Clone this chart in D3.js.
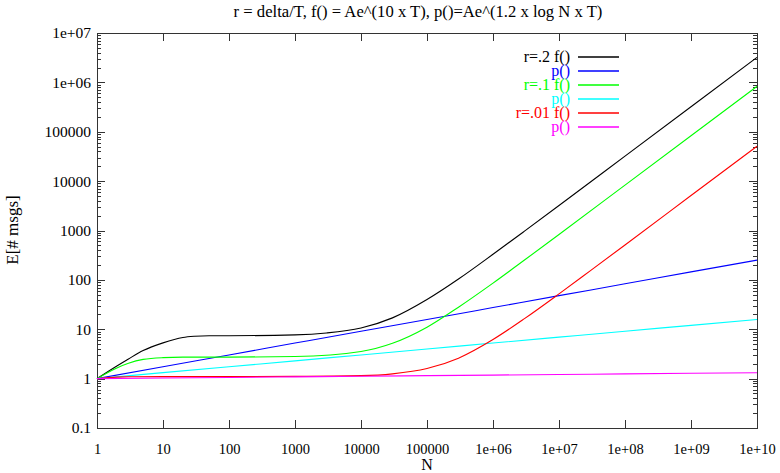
<!DOCTYPE html>
<html>
<head>
<meta charset="utf-8">
<script src="https://cdn.jsdelivr.net/npm/d3@7"></script>
<style>
  body { margin: 0; background: #fff; }
  text { font-family: "Liberation Serif", "DejaVu Serif", serif; }
</style>
</head>
<body>
<div id="chart"></div>
<script>
// values (N on x, E[# msgs] on y)
const N_BLACK = [1, 2, 3, 5, 10, 20, 30, 50, 100, 1e3, 3e3, 1e4, 3e4, 1e5, 3e5, 1e6, 3e6, 1e7, 1e8, 1e9, 1e10];
const E_BLACK = [1, 1.8, 2.5, 3.7, 5.3, 6.8, 7.2, 7.4, 7.4, 7.7, 8.4, 10.6, 17, 40, 104, 330, 970, 3200, 32000, 320000, 3200000];

const N_GREEN = [1, 2, 3, 5, 10, 20, 100, 1e3, 1e4, 3e4, 1e5, 3e5, 1e6, 3e6, 1e7, 1e8, 1e9, 1e10];
const E_GREEN = [1, 1.65, 2.05, 2.45, 2.66, 2.72, 2.72, 2.8, 3.55, 5.2, 11, 28, 86, 252, 830, 8300, 83000, 830000];

const N_RED = [1, 2, 3, 10, 100, 1e3, 1e4, 3e4, 1e5, 3e5, 1e6, 3e6, 1e7, 3e7, 1e8, 1e9, 1e10];
const E_RED = [1, 1.07, 1.09, 1.1, 1.1, 1.11, 1.15, 1.25, 1.6, 2.6, 6.2, 16.4, 52, 154, 510, 5100, 51000];

// the p() curves are straight lines, read at every decade
const N_DECADES = [1, 10, 100, 1e3, 1e4, 1e5, 1e6, 1e7, 1e8, 1e9, 1e10];
const E_BLUE = [1, 1.74, 3.02, 5.25, 9.12, 15.8, 27.5, 47.9, 83.2, 145, 251];
const E_CYAN = [1, 1.32, 1.74, 2.29, 3.02, 3.98, 5.25, 6.92, 9.12, 12.0, 15.8];
const E_MAGENTA = [1, 1.028, 1.056, 1.086, 1.117, 1.148, 1.18, 1.213, 1.247, 1.282, 1.318];

// tick labels
const X_TICKS = [1, 10, 100, 1e3, 1e4, 1e5, 1e6, 1e7, 1e8, 1e9, 1e10];
const X_TICK_LABELS = ["1", "10", "100", "1000", "10000", "100000", "1e+06", "1e+07", "1e+08", "1e+09", "1e+10"];
const Y_TICKS = [0.1, 1, 10, 100, 1e3, 1e4, 1e5, 1e6, 1e7];
const Y_TICK_LABELS = ["0.1", "1", "10", "100", "1000", "10000", "100000", "1e+06", "1e+07"];

const LEGEND_LABELS = ["r=.2 f()", "p()", "r=.1 f()", "p()", "r=.01 f()", "p()"];
const COLORS = ["#000000", "#0000ff", "#00ff00", "#00ffff", "#ff0000", "#ff00ff"];

// frame of the plot
const WIDTH = 780;
const HEIGHT = 473;
const MARGINS = {left: 97, right: 23, top: 33, bottom: 45};
const VIS_WIDTH = WIDTH - MARGINS.left - MARGINS.right;
const VIS_HEIGHT = HEIGHT - MARGINS.top - MARGINS.bottom;

const SVG = d3.select("#chart")
              .append("svg")
                .attr("width", WIDTH)
                .attr("height", HEIGHT);

const X_SCALE = d3.scaleLog()
                  .domain([1, 1e10])
                  .range([0, VIS_WIDTH]);

const Y_SCALE = d3.scaleLog()
                  .domain([0.1, 1e7])
                  .range([VIS_HEIGHT, 0]);

const PLOT = SVG.append("g")
                .attr("transform", "translate(" + MARGINS.left + "," + MARGINS.top + ")");

// minor y ticks at 2..9 of each decade
const Y_MINOR = [];
Y_TICKS.slice(0, -1).forEach((d) => {
  for (let k = 2; k <= 9; k++) { Y_MINOR.push(d * k); }
});

const AXIS_COLOR = "#333";
const MAJOR = 8;
const MINOR = 4;

// tick marks on all four sides (gnuplot mirrors them)
function addTicks(values, len, isX) {
  values.forEach((v) => {
    if (isX) {
      const x = Math.round(X_SCALE(v)) + 0.5;
      PLOT.append("line").attr("x1", x).attr("x2", x).attr("y1", VIS_HEIGHT).attr("y2", VIS_HEIGHT - len)
          .attr("stroke", AXIS_COLOR);
      PLOT.append("line").attr("x1", x).attr("x2", x).attr("y1", 0).attr("y2", len)
          .attr("stroke", AXIS_COLOR);
    } else {
      const y = Math.round(Y_SCALE(v)) + 0.5;
      PLOT.append("line").attr("x1", 0).attr("x2", len).attr("y1", y).attr("y2", y)
          .attr("stroke", AXIS_COLOR);
      PLOT.append("line").attr("x1", VIS_WIDTH).attr("x2", VIS_WIDTH - len).attr("y1", y).attr("y2", y)
          .attr("stroke", AXIS_COLOR);
    }
  });
}
addTicks(X_TICKS, MAJOR, true);
addTicks(Y_TICKS, MAJOR, false);
addTicks(Y_MINOR, MINOR, false);

// x axis labels
PLOT.append("g")
    .attr("transform", "translate(0," + VIS_HEIGHT + ")")
    .call(d3.axisBottom(X_SCALE)
            .tickValues(X_TICKS)
            .tickSize(0)
            .tickPadding(16)
            .tickFormat((d, i) => X_TICK_LABELS[i]))
    .call((g) => g.select(".domain").remove())
    .selectAll("text")
      .attr("font-size", "14.5px")
      .attr("font-family", "Liberation Serif")
      .attr("fill", "#000");

// y axis labels
PLOT.append("g")
    .call(d3.axisLeft(Y_SCALE)
            .tickValues(Y_TICKS)
            .tickSize(0)
            .tickPadding(6)
            .tickFormat((d, i) => Y_TICK_LABELS[i]))
    .call((g) => g.select(".domain").remove())
    .selectAll("text")
      .attr("font-size", "15.5px")
      .attr("font-family", "Liberation Serif")
      .attr("fill", "#000");

// plot border
PLOT.append("rect")
    .attr("x", 0.5)
    .attr("y", 0.5)
    .attr("width", VIS_WIDTH)
    .attr("height", VIS_HEIGHT)
    .attr("fill", "none")
    .attr("stroke", AXIS_COLOR);

// curves
const SERIES = [
  {n: N_BLACK, e: E_BLACK},
  {n: N_DECADES, e: E_BLUE},
  {n: N_GREEN, e: E_GREEN},
  {n: N_DECADES, e: E_CYAN},
  {n: N_RED, e: E_RED},
  {n: N_DECADES, e: E_MAGENTA}
];

const LINE = d3.line()
               .x((d) => X_SCALE(d[0]))
               .y((d) => Y_SCALE(d[1]))
               .curve(d3.curveMonotoneX);

SERIES.forEach((s, i) => {
  PLOT.append("path")
      .datum(s.n.map((n, j) => [n, s.e[j]]))
      .attr("d", LINE)
      .attr("fill", "none")
      .attr("stroke", COLORS[i])
      .attr("stroke-width", 1.1);
});

// legend, top right inside the plot
const LEGEND = SVG.append("g")
                  .attr("transform", "translate(570,57)");
LEGEND_LABELS.forEach((label, i) => {
  LEGEND.append("text")
        .attr("x", 0)
        .attr("y", i * 14 + 5)
        .attr("text-anchor", "end")
        .attr("font-size", "16px")
        .attr("fill", COLORS[i])
        .text(label);
  LEGEND.append("line")
        .attr("x1", 8)
        .attr("x2", 49)
        .attr("y1", i * 14)
        .attr("y2", i * 14)
        .attr("stroke", COLORS[i])
        .attr("stroke-width", 1.3);
});

// title and axis titles
const TITLE = SVG.append("text")
                 .attr("x", 418)
                 .attr("y", 17)
                 .attr("text-anchor", "middle")
                 .attr("font-size", "16px")
                 .text("r = delta/T, f() = Ae^(10 x T), p()=Ae^(1.2 x log N x T)");
// the title runs from about x=234 to x=603 in the picture
const TITLE_LEN = TITLE.node().getComputedTextLength();
TITLE.attr("font-size", (16 * 369 / TITLE_LEN).toFixed(2) + "px");

SVG.append("text")
   .attr("x", 427)
   .attr("y", 470)
   .attr("text-anchor", "middle")
   .attr("font-size", "16px")
   .text("N");

SVG.append("text")
   .attr("transform", "translate(18,230) rotate(-90)")
   .attr("text-anchor", "middle")
   .attr("font-size", "17px")
   .text("E[# msgs]");
</script>
</body>
</html>
